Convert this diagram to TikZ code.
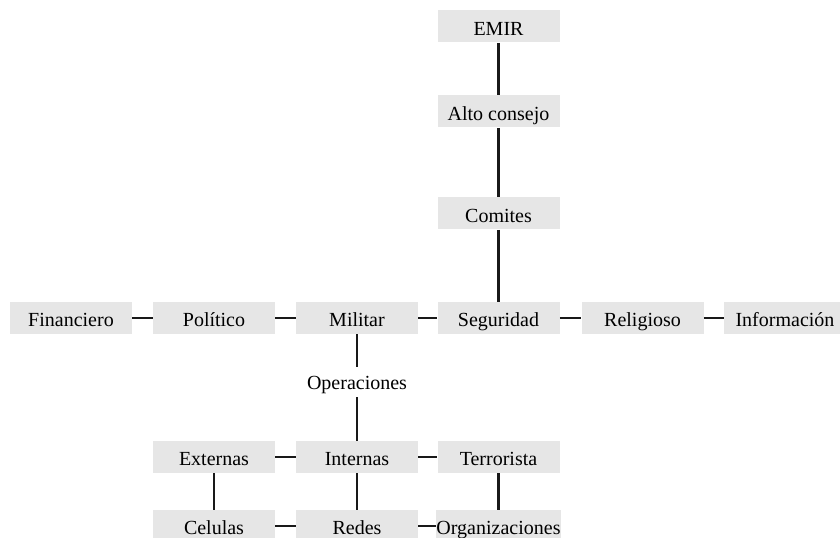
\documentclass[tikz,border=0pt]{standalone}
\usepackage{fontspec}
\setmainfont{Liberation Serif}
\begin{document}
\begin{tikzpicture}[x=0.75pt, y=-0.75pt,
    box/.style={rectangle, fill=boxgray, minimum width=91.5pt, inner sep=0pt, text height=18.5pt, text depth=5.5pt, font=\fontsize{15}{17}\selectfont},
    label/.style={rectangle, inner sep=0pt, text height=17pt, text depth=5.5pt, font=\fontsize{15}{17}\selectfont},
    link/.style={line width=1.8pt, black!90}]
  \definecolor{boxgray}{HTML}{E6E6E6}
  \useasboundingbox (0,0) rectangle (840,538);
  % Nodes
  \node (emir) [box] at (498.5, 26.5) {EMIR};
  \node (alto) [box] at (498.5, 111.5) {Alto consejo};
  \node (comites) [box] at (498.5, 213.5) {Comites};
  \node (fin) [box] at (71, 318) {Financiero};
  \node (pol) [box] at (214, 318) {Político};
  \node (mil) [box] at (357, 318) {Militar};
  \node (seg) [box] at (498.5, 318) {Seguridad};
  \node (rel) [box] at (642.5, 318) {Religioso};
  \node (inf) [box] at (785, 318) {Información};
  \node (ope) [label] at (357, 382) {Operaciones};
  \node (ext) [box] at (214, 457) {Externas};
  \node (int) [box] at (357, 457) {Internas};
  \node (ter) [box] at (498.5, 457) {Terrorista};
  \node (cel) [box] at (214, 526) {Celulas};
  \node (red) [box] at (357, 526) {Redes};
  \node (org) [box] at (498.5, 526) {Organizaciones};
  % Lines
  \draw[link] (emir) -- (alto);
  \draw[link] (alto) -- (comites);
  \draw[link] (comites) -- (seg);
  \draw[link] (fin) -- (pol);
  \draw[link] (pol) -- (mil);
  \draw[link] (mil) -- (seg);
  \draw[link] (seg) -- (rel);
  \draw[link] (rel) -- (inf);
  \draw[link] (mil) -- (ope);
  \draw[link] (ope) -- (int);
  \draw[link] (ext) -- (int);
  \draw[link] (int) -- (ter);
  \draw[link] (ext) -- (cel);
  \draw[link] (int) -- (red);
  \draw[link] (ter) -- (org);
  \draw[link] (cel) -- (red);
  \draw[link] (red) -- (org);
\end{tikzpicture}
\end{document}
